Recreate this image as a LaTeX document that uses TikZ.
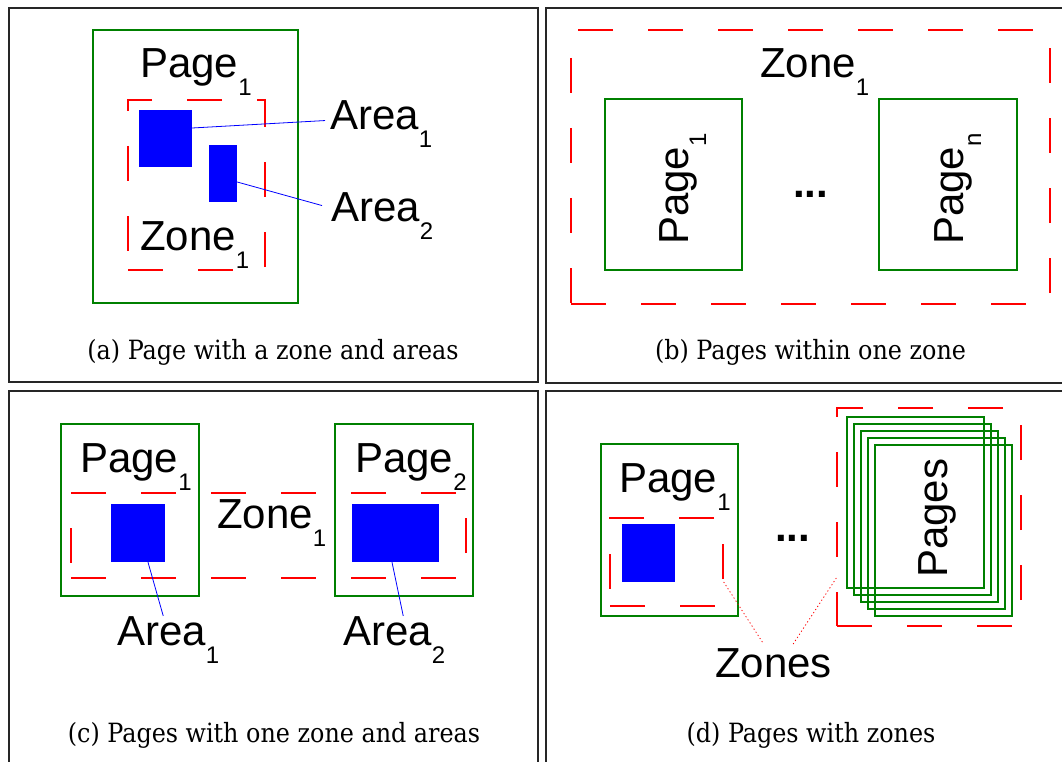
\documentclass[tikz,border=0pt]{standalone}
\usepackage{fontspec}
\usepackage{tikz}
\usepackage{xcolor}
\usetikzlibrary{positioning, calc}
\newfontfamily\lblfont{Liberation Sans}
\newfontfamily\capfont{DejaVu Serif Condensed}
\definecolor{pagegreen}{RGB}{0,128,0}
\newcommand{\idx}[2]{#1\raisebox{-18pt}{\fontsize{24}{24}\selectfont #2}}

\begin{document}
\begin{tikzpicture}[
            x=1pt, y=-1pt,
            panel/.style={draw=black!85, line width=1.6pt},
            page/.style={draw=pagegreen, line width=1.2pt, inner sep=0pt},
            zone/.style={draw=red, line width=1.4pt, dash pattern=on 35pt off 35pt, inner sep=0pt},
            area/.style={fill=blue, inner sep=0pt},
            lbl/.style={font=\lblfont\fontsize{42}{42}\selectfont, inner sep=0pt, anchor=base west},
            captxt/.style={font=\capfont\fontsize{26.5}{30}\selectfont, inner sep=0pt, anchor=base},
            arealink/.style={draw=blue, line width=0.8pt},
            zonelink/.style={draw=red, line width=0.8pt, dash pattern=on 1.2pt off 2.5pt},
        ]
            \useasboundingbox (0,0) rectangle (1062,762);
            \clip (0,0) rectangle (1062,762);

            % panel frames
            \draw[panel] (9,8) rectangle (538,382);
            \draw[panel] (546,8) rectangle (1075,383);
            \draw[panel] (9,391) rectangle (538,775);
            \draw[panel] (546,391) rectangle (1075,775);

            % (a) page with a zone and areas
            \node[page, minimum width=205, minimum height=273] (pa) at (195.5,166.5) {};
            \node[zone, minimum width=137, minimum height=170] (za) at (196.5,185) {};
            \node[area, minimum width=53, minimum height=57] (ar1) at (165.5,138.5) {};
            \node[area, minimum width=28, minimum height=57] (ar2) at (223,173.5) {};
            \node[lbl] (pla) at (140,78) {\idx{Page}{1}};
            \node[lbl] (zla) at (140,250) {\idx{Zone}{1}};
            \node[lbl] (al1) at (330,130) {\idx{Area}{1}};
            \node[lbl] (al2) at (331,221) {\idx{Area}{2}};
            \draw[arealink] ($(ar1.east)+(0,-10.5)$) -- ($(al1.west)+(-5,-4)$);
            \draw[arealink] ($(ar2.east)+(0,8.5)$) -- ($(al2.west)+(-9,-10)$);
            \node[captxt] (capa) at (273,359) {(a) Page with a zone and areas};

            % (b) pages within one zone
            \node[zone, minimum width=479, minimum height=274] (zb) at (810.5,167) {};
            \node[page, minimum width=137, minimum height=171] (pb1) at (673.5,184.5) {};
            \node[page, minimum width=138, minimum height=171] (pbn) at (948,184.5) {};
            \node[lbl] (zlb) at (760,78) {\idx{Zone}{1}};
            \node[lbl, rotate=90] (plb1) at (688,245) {\idx{Page}{1}};
            \node[lbl, rotate=90] (plbn) at (963,245) {\idx{Page}{n}};
            \node[lbl] (dotsb) at (793,197) {\textbf{...}};
            \node[captxt] (capb) at (810.5,359) {(b) Pages within one zone};

            % (c) pages with one zone and areas
            \node[page, minimum width=138, minimum height=172] (pc1) at (130,510) {};
            \node[page, minimum width=138, minimum height=172] (pc2) at (404,510) {};
            \node[zone, minimum width=395, minimum height=85] (zc) at (268.5,535.5) {};
            \node[area, minimum width=54, minimum height=58] (ac1) at (138,533) {};
            \node[area, minimum width=87, minimum height=58] (ac2) at (395.5,533) {};
            \node[lbl] (plc1) at (80,472) {\idx{Page}{1}};
            \node[lbl] (plc2) at (355,472) {\idx{Page}{2}};
            \node[lbl] (zlc) at (217,528) {\idx{Zone}{1}};
            \node[lbl] (alc1) at (117,645) {\idx{Area}{1}};
            \node[lbl] (alc2) at (343,645) {\idx{Area}{2}};
            \draw[arealink] ($(ac1.south)+(10,0)$) -- ($(alc1.north)+(-5,0)$);
            \draw[arealink] ($(ac2.south)+(-3.5,0)$) -- ($(alc2.north)+(9,0)$);
            \node[captxt] (capc) at (274,742) {(c) Pages with one zone and areas};

            % (d) pages with zones
            \node[page, minimum width=137, minimum height=172] (pd1) at (669.5,530) {};
            \node[zone, minimum width=113, minimum height=88] (zd1) at (666.5,562) {};
            \node[area, minimum width=53, minimum height=58] (ad1) at (648.5,553) {};
            \node[lbl] (pld1) at (619,492) {\idx{Page}{1}};
            \node[lbl] (dotsd) at (775,541) {\textbf{...}};
            \node[zone, minimum width=184, minimum height=218] (zd2) at (929,517) {};
            \foreach \i in {0,...,4}
                \node[page, minimum width=137, minimum height=171] (pd\i) at (915.5+7*\i,502.5+7*\i) {};
            \node[lbl, rotate=90] (pls) at (947,578) {Pages};
            \node[lbl] (zld) at (715,677) {Zones};
            \draw[zonelink] ($(zd1.east)+(0,20)$) -- ($(zld.north)+(-10,-4)$);
            \draw[zonelink] ($(zd2.west)+(0,61)$) -- ($(zld.north)+(19,-3)$);
            \node[captxt] (capd) at (811,742) {(d) Pages with zones};
        \end{tikzpicture}
\end{document}
